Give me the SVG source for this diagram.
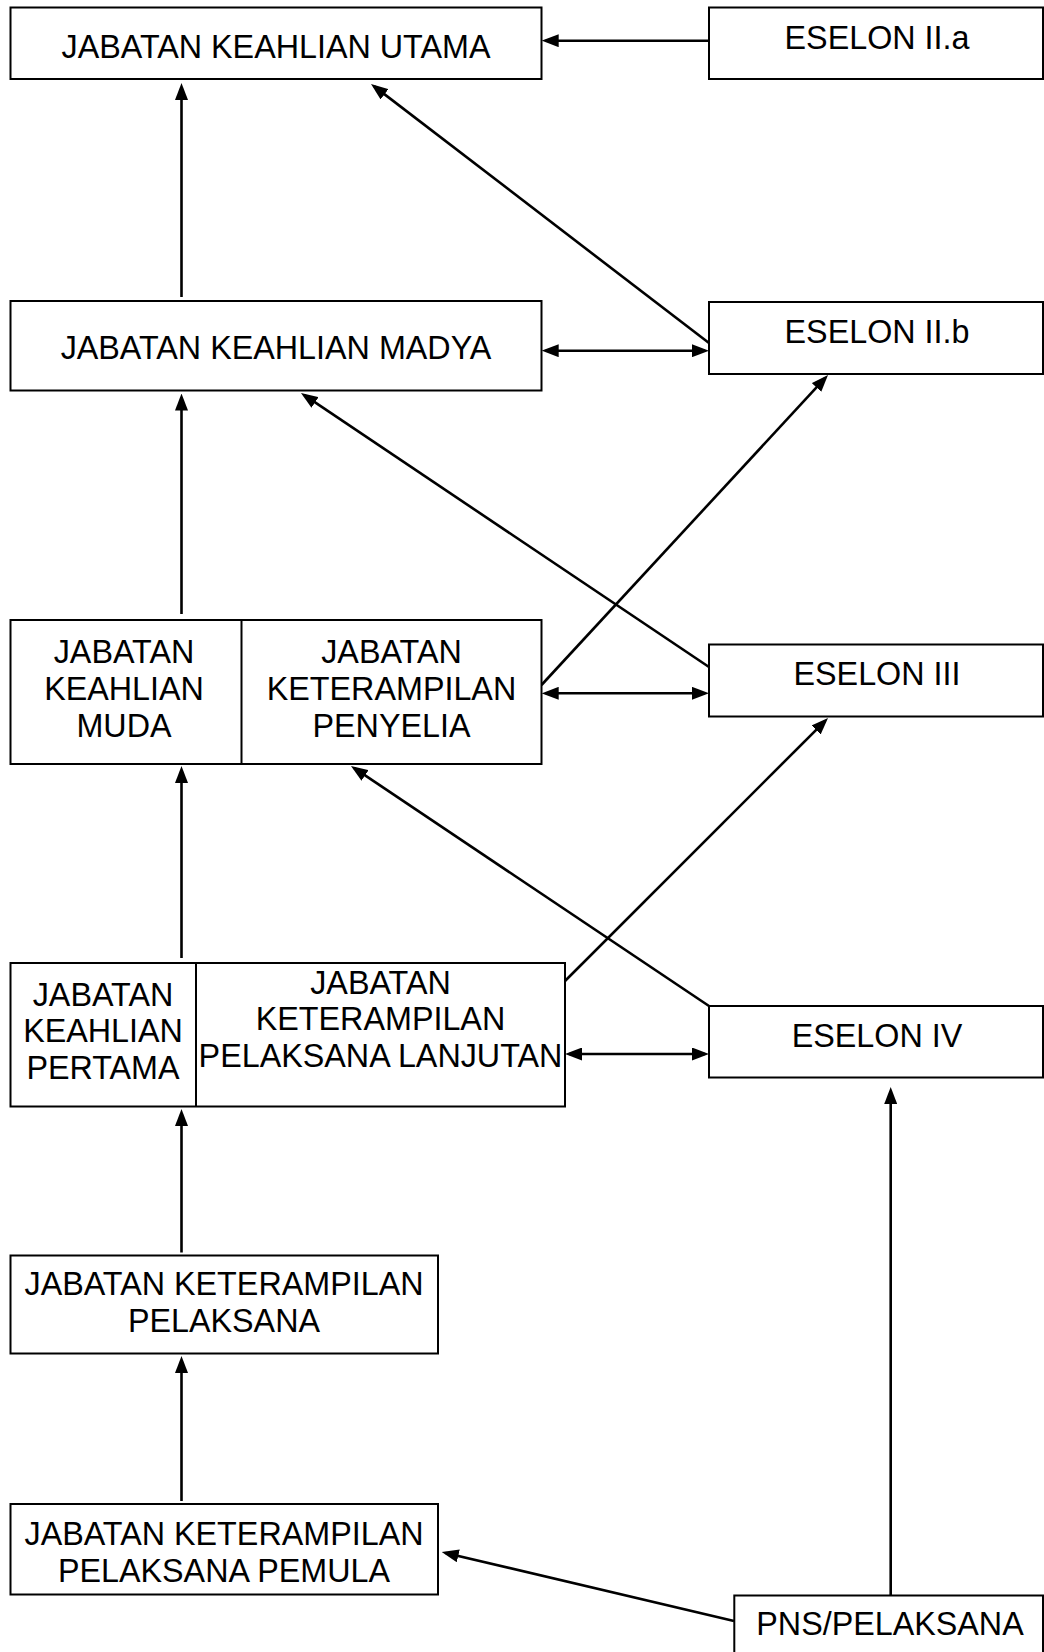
<svg xmlns="http://www.w3.org/2000/svg" width="1044" height="1652" viewBox="0 0 1044 1652">
<style>
  rect.box { fill: #ffffff; stroke: #000000; stroke-width: 2; }
  line.div { stroke: #000000; stroke-width: 2; }
  text { font-family: "Liberation Sans", Arial, sans-serif; font-size: 32.3px; fill: #000000; text-anchor: middle; }
  .conn path { fill: none; stroke: #000000; stroke-width: 2.6; }
</style>
<defs>
  <marker id="ah" viewBox="0 0 17 13" markerWidth="17" markerHeight="13" refX="13" refY="6.5" orient="auto-start-reverse" markerUnits="userSpaceOnUse">
    <path d="M0,0 L17,6.5 L0,13 z" fill="#000000"/>
  </marker>
</defs>
<rect x="0" y="0" width="1044" height="1652" fill="#ffffff"/>

<g class="conn" id="connectors">
  <path d="M181.5,297 L181.5,87" marker-end="url(#ah)"/>
  <path d="M181.5,614 L181.5,397.5" marker-end="url(#ah)"/>
  <path d="M181.5,958 L181.5,770" marker-end="url(#ah)"/>
  <path d="M181.5,1252.5 L181.5,1113" marker-end="url(#ah)"/>
  <path d="M181.5,1501 L181.5,1360" marker-end="url(#ah)"/>
  <path d="M709,40.7 L545.7,40.7" marker-end="url(#ah)"/>
  <path d="M545.7,350.7 L705,350.7" marker-start="url(#ah)" marker-end="url(#ah)"/>
  <path d="M545.7,693.3 L705,693.3" marker-start="url(#ah)" marker-end="url(#ah)"/>
  <path d="M569,1054 L705,1054" marker-start="url(#ah)" marker-end="url(#ah)"/>
  <path d="M709,343 L374.2,86.4" marker-end="url(#ah)"/>
  <path d="M709,667 L304.3,395.2" marker-end="url(#ah)"/>
  <path d="M541.5,685 L825.3,377.9" marker-end="url(#ah)"/>
  <path d="M709,1006 L354.3,768.2" marker-end="url(#ah)"/>
  <path d="M565,981 L825.2,720.8" marker-end="url(#ah)"/>
  <path d="M734,1621 L445.6,1552.9" marker-end="url(#ah)"/>
  <path d="M890.7,1595.5 L890.7,1091" marker-end="url(#ah)"/>
</g>

<g id="node-utama">
  <rect class="box" x="10.5" y="7.5" width="531" height="71.5"/>
  <text x="276" y="58">JABATAN KEAHLIAN UTAMA</text>
</g>
<g id="node-eselon-2a">
  <rect class="box" x="709" y="7.5" width="334" height="71.5"/>
  <text x="877" y="49">ESELON II.a</text>
</g>
<g id="node-madya">
  <rect class="box" x="10.5" y="301" width="531" height="89.5"/>
  <text x="276" y="359">JABATAN KEAHLIAN MADYA</text>
</g>
<g id="node-eselon-2b">
  <rect class="box" x="709" y="302" width="334" height="72"/>
  <text x="877" y="343">ESELON II.b</text>
</g>
<g id="node-muda-penyelia">
  <rect class="box" x="10.5" y="620" width="531" height="144"/>
  <line class="div" x1="241.5" y1="620" x2="241.5" y2="764"/>
  <text x="124" y="662.5">JABATAN</text>
  <text x="124" y="699.5">KEAHLIAN</text>
  <text x="124" y="736.5">MUDA</text>
  <text x="391.5" y="662.5">JABATAN</text>
  <text x="391.5" y="699.5">KETERAMPILAN</text>
  <text x="391.5" y="736.5">PENYELIA</text>
</g>
<g id="node-eselon-3">
  <rect class="box" x="709" y="644.5" width="334" height="72"/>
  <text x="877" y="685">ESELON III</text>
</g>
<g id="node-pertama-lanjutan">
  <rect class="box" x="10.5" y="963" width="554.5" height="143.5"/>
  <line class="div" x1="196" y1="963" x2="196" y2="1106.5"/>
  <text x="103" y="1005.5">JABATAN</text>
  <text x="103" y="1042">KEAHLIAN</text>
  <text x="103" y="1078.5">PERTAMA</text>
  <text x="380.5" y="993.5">JABATAN</text>
  <text x="380.5" y="1030">KETERAMPILAN</text>
  <text x="380.5" y="1066.5">PELAKSANA LANJUTAN</text>
</g>
<g id="node-eselon-4">
  <rect class="box" x="709" y="1006" width="334" height="71.5"/>
  <text x="877" y="1047">ESELON IV</text>
</g>
<g id="node-pelaksana">
  <rect class="box" x="10.5" y="1255.5" width="427.5" height="98"/>
  <text x="224" y="1295">JABATAN KETERAMPILAN</text>
  <text x="224" y="1332">PELAKSANA</text>
</g>
<g id="node-pemula">
  <rect class="box" x="10.5" y="1504" width="427.5" height="90.5"/>
  <text x="224" y="1544.5">JABATAN KETERAMPILAN</text>
  <text x="224" y="1581.5">PELAKSANA PEMULA</text>
</g>
<g id="node-pns">
  <rect class="box" x="734.3" y="1595.5" width="308.7" height="70"/>
  <text x="890" y="1635">PNS/PELAKSANA</text>
</g>
</svg>
